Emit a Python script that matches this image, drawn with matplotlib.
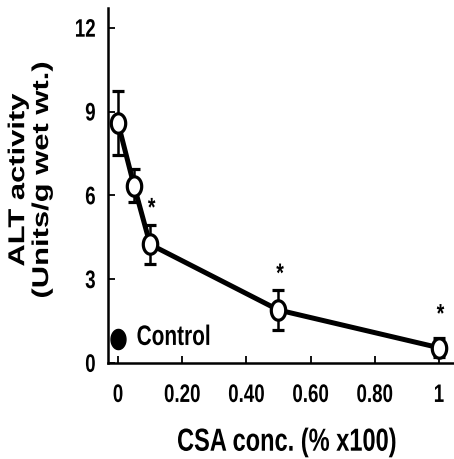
import numpy as np
import matplotlib
matplotlib.use("Agg")
import matplotlib.pyplot as plt
from matplotlib.path import Path
from matplotlib.patheffects import AbstractPathEffect
from matplotlib.transforms import Affine2D

plt.rcParams["font.family"] = ["Liberation Sans", "DejaVu Sans"]
plt.rcParams["font.weight"] = "bold"
plt.rcParams["axes.labelweight"] = "bold"

# data
conc = [0, 0.05, 0.1, 0.5, 1.0]
alt = [8.6, 6.35, 4.25, 1.9, 0.55]
err = [1.15, 0.6, 0.7, 0.7, 0.35]
star_conc = [0.1, 0.5, 1.0]
star_y = [5.55, 3.2, 1.75]
control_x = 0
control_y = 0.85
xticks = [0, 0.2, 0.4, 0.6, 0.8, 1.0]
xticklabels = ["0", "0.20", "0.40", "0.60", "0.80", "1"]
yticks = [0, 3, 6, 9, 12]

STRETCH = 1.35  # the scanned figure is stretched vertically


class VStretch(AbstractPathEffect):
    # scale text glyphs vertically about their own centre
    def __init__(self, s):
        super().__init__()
        self.s = s

    def draw_path(self, renderer, gc, tpath, affine, rgbFace=None):
        ext = tpath.transformed(affine).get_extents()
        cy = 0.5 * (ext.y0 + ext.y1)
        a = affine + Affine2D().translate(0, -cy).scale(1, self.s).translate(0, cy)
        renderer.draw_path(gc, tpath, a, rgbFace)


pe = [VStretch(STRETCH)]
th = np.linspace(0, 2 * np.pi, 60)
ell = Path(np.column_stack([np.cos(th), STRETCH * np.sin(th)]), closed=True)

fig = plt.figure(figsize=(4.54, 4.59), dpi=100)
ax = fig.add_axes([0.238, 0.209, 0.762, 0.774])

ax.errorbar(conc, alt, yerr=err, color="black", lw=3.6, elinewidth=1.8,
            capsize=4, capthick=1.8, marker=ell, ms=14, mfc="white",
            mec="black", mew=2.3, zorder=3)
ax.plot([control_x], [control_y], marker=ell, ls="none", color="black",
        ms=14.5, zorder=4)
ax.text(0.058, 0.94, "Control", fontsize=15, fontweight="bold",
        va="center", ha="left", path_effects=pe)
for sx, sy in zip(star_conc, star_y):
    ax.text(sx + 0.005, sy, "*", fontsize=14, fontweight="bold",
            ha="center", va="center", path_effects=pe)

ax.set_xlim(-0.031, 1.047)
ax.set_ylim(0, 12.72)
ax.set_xticks(xticks)
ax.set_xticklabels(xticklabels)
ax.set_yticks(yticks)
ax.tick_params(direction="in", length=5, width=1.3, labelsize=13.5)
ax.tick_params(axis="x", pad=17)
ax.tick_params(axis="y", pad=9)
for lab in ax.get_xticklabels() + ax.get_yticklabels():
    lab.set_fontweight("bold")
    lab.set_path_effects(pe)
for s in ["top", "right"]:
    ax.spines[s].set_visible(False)
for s in ["left", "bottom"]:
    ax.spines[s].set_linewidth(1.8)

ax.set_xlabel("CSA conc. (% x100)", fontsize=17, fontweight="bold",
              path_effects=pe)
ax.xaxis.set_label_coords(0.517, -0.19)
ax.set_ylabel("ALT activity\n(Units/g wet wt.)", fontsize=16.5,
              fontweight="bold", linespacing=1.05, path_effects=pe)
ax.yaxis.set_label_coords(-0.159, 0.515)

fig.savefig("out.png", dpi=100)
